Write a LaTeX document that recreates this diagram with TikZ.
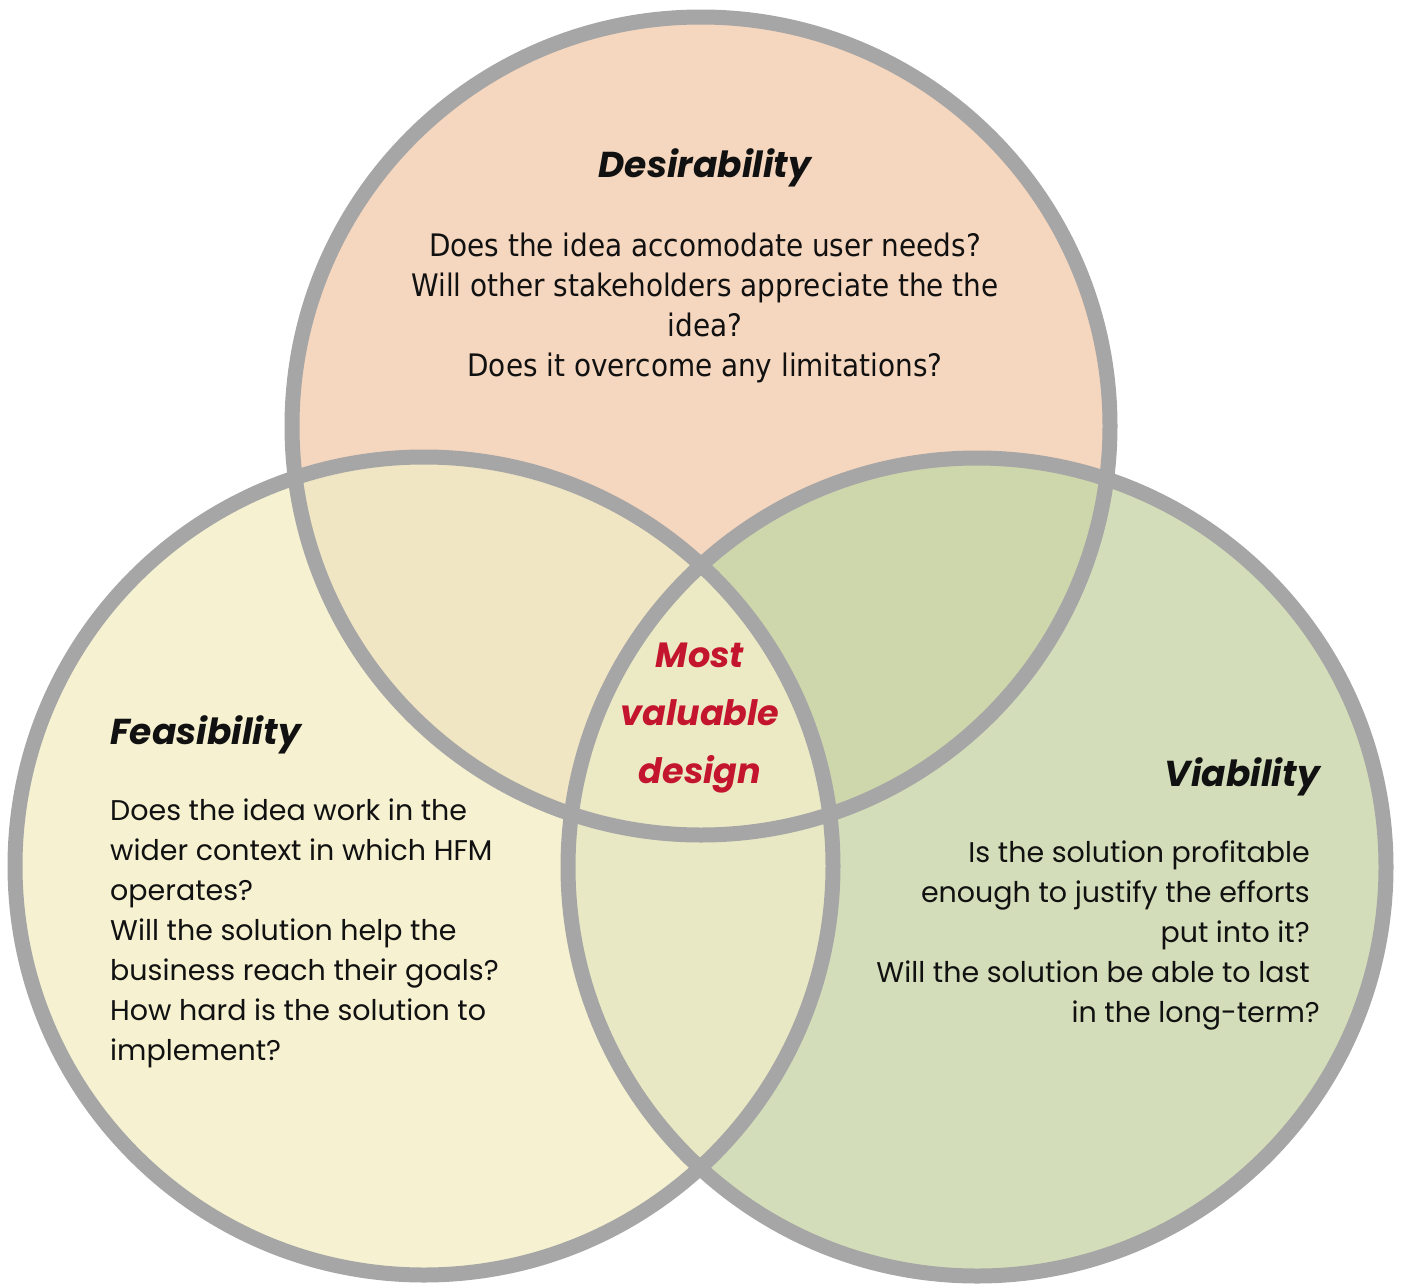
\documentclass[tikz,border=0pt]{standalone}
\usepackage{fontspec}
\setmainfont{Poppins}
\newfontfamily\condfont{DejaVu Sans Condensed}

% region fills
\definecolor{desfill}{HTML}{F5D6BE}
\definecolor{feasfill}{HTML}{F5F1D1}
\definecolor{viafill}{HTML}{D3DDB9}
\definecolor{dfill}{HTML}{F1E6C3}
\definecolor{dvfill}{HTML}{CED6AB}
\definecolor{fvfill}{HTML}{E9E8C4}
\definecolor{allfill}{HTML}{ECEAC5}
\definecolor{ringgray}{HTML}{A6A6A6}
\definecolor{inkred}{HTML}{C4152F}
\definecolor{ink}{HTML}{111111}

\tikzset{
  ring/.style={draw=ringgray, line width=15pt},
  title/.style={font=\fontsize{36}{42}\selectfont\bfseries\itshape, text=ink, inner sep=0pt},
  bodytext/.style={font=\fontsize{28.5}{40}\selectfont, text=ink, inner sep=0pt},
  condtext/.style={font=\condfont\fontsize{31}{40}\selectfont, text=ink, inner sep=0pt},
  coretext/.style={font=\fontsize{35}{58}\selectfont\bfseries\itshape, text=inkred, inner sep=0pt, align=center},
}

\begin{document}
\begin{tikzpicture}[x=1pt,y=-1pt]
\useasboundingbox (0,0) rectangle (1406,1283);

% circle centres
\coordinate (D) at (701,426);
\coordinate (F) at (424,866);
\coordinate (V) at (977,867);
\def\R{409pt}

% single-set fills
\fill[feasfill] (F) circle (\R);
\fill[viafill] (V) circle (\R);
\fill[desfill] (D) circle (\R);

% pairwise overlaps
\begin{scope}\clip (D) circle (\R); \fill[dfill] (F) circle (\R); \end{scope}
\begin{scope}\clip (D) circle (\R); \fill[dvfill] (V) circle (\R); \end{scope}
\begin{scope}\clip (F) circle (\R); \fill[fvfill] (V) circle (\R); \end{scope}
% triple overlap
\begin{scope}\clip (D) circle (\R); \clip (F) circle (\R); \fill[allfill] (V) circle (\R); \end{scope}

% outlines
\draw[ring] (D) circle (\R);
\draw[ring] (F) circle (\R);
\draw[ring] (V) circle (\R);

% Desirability
\node[title] (destitle) at (705,168) {Desirability};
\node[condtext, align=center] (desbody) at (705,308) {Does the idea accomodate user needs?\\
Will other stakeholders appreciate the the\\
idea?\\
Does it overcome any limitations?};

% Feasibility
\node[title, anchor=west] (feastitle) at (110,735) {Feasibility};
\node[bodytext, align=left, anchor=west] (feasbody) at (110,933) {Does the idea work in the\\
wider context in which HFM\\
operates?\\
Will the solution help the\\
business reach their goals?\\
How hard is the solution to\\
implement?};

% Viability
\node[title, anchor=east] (viatitle) at (1320,777) {Viability};
\node[bodytext, align=right, anchor=east] (viabody) at (1310,935) {Is the solution profitable\\
enough to justify the efforts\\
put into it?\\
Will the solution be able to last\\
in the long-term?\hspace*{-10pt}};

% centre
\node[coretext] (core) at (700,718) {Most\\valuable\\design};
\end{tikzpicture}
\end{document}
